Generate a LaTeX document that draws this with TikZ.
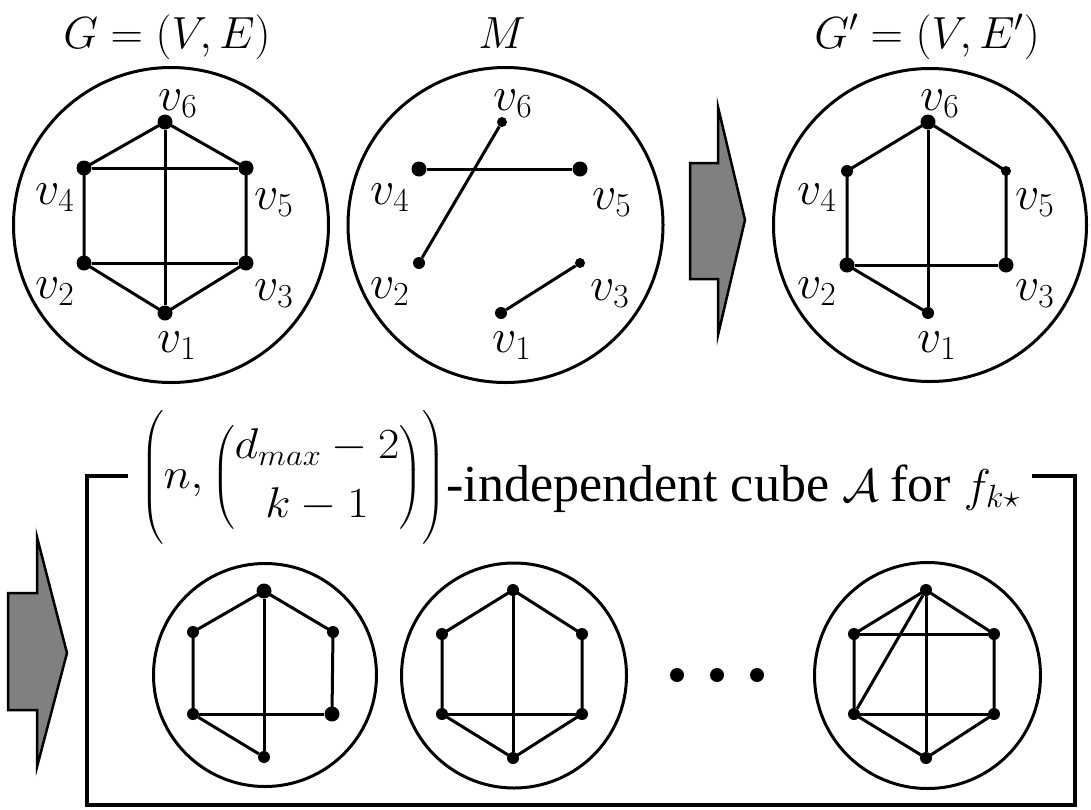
\RequirePackage{fix-cm}
\documentclass[tikz,border=0pt]{standalone}
\usepackage{amsmath}
\usepackage{graphicx}
\usepackage{fontspec}
\newfontfamily\tnr{Liberation Serif}[Ligatures=TeX]
\begin{document}
\begin{tikzpicture}[x=1pt,y=-1pt,
  ring/.style={circle, draw, line width=3pt, inner sep=0pt, outer sep=0pt},
  bd/.style={circle, fill, inner sep=0pt, minimum size=15pt},
  md/.style={circle, fill, inner sep=0pt, minimum size=12pt},
  sd/.style={circle, fill, inner sep=0pt, minimum size=10pt},
  edge/.style={line width=3pt},
  ttl/.style={font=\fontsize{45}{50}\selectfont, inner sep=0pt, anchor=base},
  lbl/.style={font=\fontsize{48}{54}\selectfont, inner sep=0pt},
  bigarrow/.style={fill=black!50, draw, line width=2.5pt, line join=miter},
  frame/.style={line width=4pt, line join=miter}]
\useasboundingbox (0,0) rectangle (1091,809);

% ---------- titles
\node[ttl] (tG) at (167,48) {$G=(V,E)$};
\node[ttl] (tM) at (502,48) {$M$};
\node[ttl] (tH) at (927,48) {$G^{\prime}=(V,E^{\prime})$};

% ---------- graph G
\node[ring, minimum size=315pt] (cG) at (171,225) {};
\node[bd] (g1) at (165,313) {};
\node[bd] (g2) at (84,263) {};
\node[bd] (g3) at (246,263) {};
\node[bd] (g4) at (84,168) {};
\node[bd] (g5) at (246,168) {};
\node[bd] (g6) at (165,122) {};
\draw[edge] (g6.center) -- (g4.center) -- (g2.center) -- (g1.center) -- (g3.center) -- (g5.center) -- (g6.center);
\draw[edge] (g4) -- (g5);
\draw[edge] (g2) -- (g3);
\draw[edge] (g6) -- (g1);
\node[lbl] (lg6) at (178,104) {$v_6$};
\node[lbl] (lg4) at (55,198) {$v_4$};
\node[lbl] (lg5) at (274,203) {$v_5$};
\node[lbl] (lg2) at (55,292) {$v_2$};
\node[lbl] (lg3) at (274,294) {$v_3$};
\node[lbl] (lg1) at (177,346) {$v_1$};

% ---------- matching M
\node[ring, minimum size=315pt] (cM) at (505.5,225) {};
\node[md] (m1) at (501,313) {};
\node[md] (m2) at (419,263) {};
\node[sd] (m3) at (580,263) {};
\node[bd] (m4) at (419,169) {};
\node[bd] (m5) at (580,169) {};
\node[sd] (m6) at (502,122) {};
\draw[edge] (m6) -- (m2);
\draw[edge] (m4) -- (m5);
\draw[edge] (m1) -- (m3);
\node[lbl] (lm6) at (513,104) {$v_6$};
\node[lbl] (lm4) at (390,198) {$v_4$};
\node[lbl] (lm5) at (612,203) {$v_5$};
\node[lbl] (lm2) at (390,292) {$v_2$};
\node[lbl] (lm3) at (610,294) {$v_3$};
\node[lbl] (lm1) at (512,346) {$v_1$};

% ---------- arrow 1
\draw[bigarrow] (690,163) -- (718,163) -- (718,107) -- (745,220) -- (718,335) -- (718,279) -- (690,279) -- cycle;

% ---------- graph G'
\node[ring, minimum size=313pt] (cH) at (930,225) {};
\node[md] (h1) at (928,313) {};
\node[bd] (h2) at (847,265) {};
\node[bd] (h3) at (1006,265) {};
\node[md] (h4) at (847,171) {};
\node[sd] (h5) at (1006,171) {};
\node[bd] (h6) at (928,122) {};
\draw[edge] (h6.center) -- (h4.center) -- (h2.center) -- (h1.center);
\draw[edge] (h6.center) -- (h5.center) -- (h3.center);
\draw[edge] (h2) -- (h3);
\draw[edge] (h6) -- (h1);
\node[lbl] (lh6) at (940,104) {$v_6$};
\node[lbl] (lh4) at (817,198) {$v_4$};
\node[lbl] (lh5) at (1035,203) {$v_5$};
\node[lbl] (lh2) at (817,292) {$v_2$};
\node[lbl] (lh3) at (1035,294) {$v_3$};
\node[lbl] (lh1) at (937,346) {$v_1$};

% ---------- arrow 2
\draw[bigarrow] (8,593) -- (37,593) -- (37,537) -- (67,653) -- (37,767) -- (37,710) -- (8,710) -- cycle;

% ---------- label and frame
\node[font=\fontsize{43}{50}\selectfont, inner xsep=12pt, inner ysep=0pt, anchor=base] (lab) at (580,501)
  {\raisebox{13pt}{\scalebox{1.08}[1]{$\displaystyle\Biggl(n,\binom{d_{max}-2}{k-1}\Biggr)$}}{\fontsize{52}{60}\selectfont\fontspec{Liberation Serif}-independent cube \fontsize{46}{54}\selectfont$\mathcal{A}$ \fontsize{52}{60}\selectfont\fontspec{Liberation Serif}for \fontsize{46}{54}\selectfont$f_{k\star}$}};
\coordinate (tl) at (87,476);
\coordinate (bl) at (87,805);
\coordinate (br) at (1075,805);
\coordinate (tr) at (1075,476);
\draw[frame] (lab.west |- tl) -- (tl) -- (bl) -- (br) -- (tr) -- (lab.east |- tr);

% ---------- cube member A
\node[ring, minimum size=223pt] (cA) at (265,675) {};
\node[bd] (a6) at (264,591) {};
\node[md] (a4) at (193,632) {};
\node[md] (a5) at (333,632) {};
\node[md] (a2) at (193,714) {};
\node[bd] (a3) at (332,714) {};
\node[md] (a1) at (264,757) {};
\draw[edge] (a2.center) -- (a4.center) -- (a6.center) -- (a5.center) -- (a3.center);
\draw[edge] (a2) -- (a3);
\draw[edge] (a2) -- (a1);
\draw[edge] (a6) -- (a1);

% ---------- cube member B
\node[ring, minimum size=225pt] (cB) at (514,675.5) {};
\node[md] (b6) at (513,590) {};
\node[md] (b4) at (442,634) {};
\node[md] (b5) at (582,634) {};
\node[md] (b2) at (442,714) {};
\node[md] (b3) at (582,714) {};
\node[md] (b1) at (513,758) {};
\draw[edge] (b6.center) -- (b4.center) -- (b2.center) -- (b1.center) -- (b3.center) -- (b5.center) -- (b6.center);
\draw[edge] (b2) -- (b3);
\draw[edge] (b6) -- (b1);

% ---------- ellipsis
\node[bd, minimum size=14pt] (e1) at (677,675) {};
\node[bd, minimum size=14pt] (e2) at (717,675) {};
\node[bd, minimum size=14pt] (e3) at (757,675) {};

% ---------- cube member C
\node[ring, minimum size=226pt] (cC) at (927.5,675.5) {};
\node[md] (c6) at (926,590) {};
\node[md] (c4) at (854,634) {};
\node[md] (c5) at (994,634) {};
\node[md] (c2) at (854,714) {};
\node[md] (c3) at (994,714) {};
\node[md] (c1) at (926,758) {};
\draw[edge] (c6.center) -- (c4.center) -- (c2.center) -- (c1.center) -- (c3.center) -- (c5.center) -- (c6.center);
\draw[edge] (c4) -- (c5);
\draw[edge] (c2) -- (c3);
\draw[edge] (c6) -- (c1);
\draw[edge] (c6) -- (c2);
\end{tikzpicture}
\end{document}
